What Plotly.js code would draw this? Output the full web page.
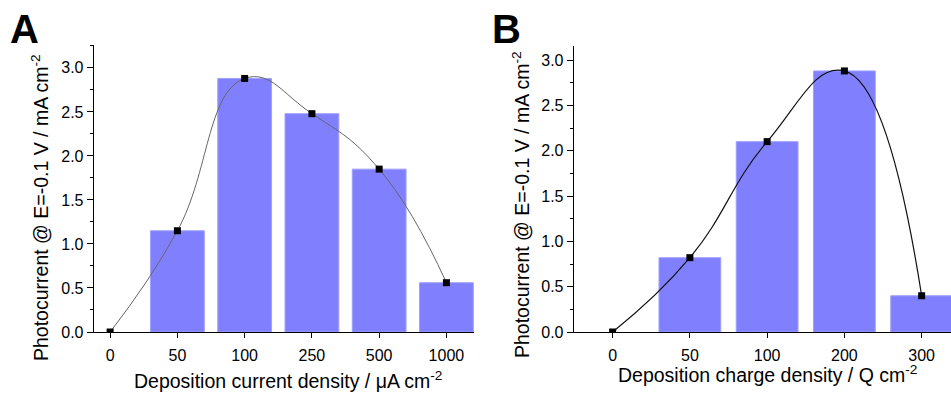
<!DOCTYPE html>
<html>
<head>
<meta charset="utf-8">
<script src="https://cdn.plot.ly/plotly-3.0.1.min.js"></script>
<style>html,body{margin:0;padding:0;background:#fff}#chart{width:951px;height:394px}</style>
</head>
<body>
<div id="chart"></div>
<script>
// Panel A data
const catsA = ["0", "50", "100", "250", "500", "1000"];
const barsA = [null, 1.15, 2.88, 2.48, 1.85, 0.56];
const pointsA = [0, 1.15, 2.88, 2.48, 1.85, 0.56];
// Panel B data
const catsB = ["0", "50", "100", "200", "300"];
const barsB = [null, 0.82, 2.10, 2.88, 0.40];
const pointsB = [0, 0.82, 2.10, 2.88, 0.40];
// Titles
const yTitle = "Photocurrent @ E=-0.1 V / mA cm<sup>-2</sup>";
const xTitleA = "Deposition current density / \u03bcA cm<sup>-2</sup>";
const xTitleB = "Deposition charge density / Q cm<sup>-2</sup>";

const FONT = "Arial, 'Liberation Sans', sans-serif";
const barColor = "rgb(128,128,255)";
const barLine = "rgb(160,160,255)";

const traces = [
  {type: "bar", x: catsA, y: barsA, xaxis: "x", yaxis: "y", width: 0.8,
   marker: {color: barColor, line: {color: barLine, width: 1}}, hoverinfo: "skip"},
  {type: "scatter", mode: "lines", x: catsA, y: pointsA, xaxis: "x", yaxis: "y",
   line: {shape: "spline", smoothing: 1.3, color: "#666", width: 1}},
  {type: "scatter", mode: "markers", x: catsA, y: pointsA, xaxis: "x", yaxis: "y",
   marker: {symbol: "square", size: 7, color: "#000"}},
  {type: "bar", x: catsB, y: barsB, xaxis: "x2", yaxis: "y2", width: 0.8,
   marker: {color: barColor, line: {color: barLine, width: 1}}, hoverinfo: "skip"},
  {type: "scatter", mode: "lines", x: catsB, y: pointsB, xaxis: "x2", yaxis: "y2",
   line: {shape: "spline", smoothing: 1.3, color: "#111", width: 1.2}},
  {type: "scatter", mode: "markers", x: catsB, y: pointsB, xaxis: "x2", yaxis: "y2",
   marker: {symbol: "square", size: 7, color: "#000"}}
];

const H = 394, W = 951;
const yBot = (H - 332) / H;
function xAxis(domain, range, anchor) {
  return {
    type: "category", domain: domain, range: range, anchor: anchor,
    showline: true, linecolor: "#000", linewidth: 1.3, mirror: false,
    ticks: "outside", ticklen: 5, tickwidth: 1, tickcolor: "#000",
    ticklabelstandoff: 3,
    showgrid: false, zeroline: false, fixedrange: true,
    tickfont: {family: FONT, size: 16, color: "#000"}
  };
}
function yAxis(domain, range, anchor) {
  return {
    domain: domain, range: range, anchor: anchor,
    showline: true, linecolor: "#000", linewidth: 1.3,
    ticks: "outside", ticklen: 6, tickwidth: 1, tickcolor: "#000",
    dtick: 0.5, tick0: 0, tickformat: ".1f",
    minor: {ticks: "outside", ticklen: 3, dtick: 0.25, tickcolor: "#000", tickwidth: 1},
    showgrid: false, zeroline: false, fixedrange: true,
    tickfont: {family: FONT, size: 16, color: "#000"}
  };
}
function px(x) { return x / W; }
function py(y) { return 1 - y / H; }
const titleFont = {family: FONT, size: 19.5, color: "#000"};

const layout = {
  width: W, height: H,
  margin: {l: 0, r: 0, t: 0, b: 0},
  paper_bgcolor: "#fff", plot_bgcolor: "rgba(0,0,0,0)",
  showlegend: false, bargap: 0.2,
  xaxis: xAxis([px(94), px(474)], [-0.24, 5.41], "y"),
  yaxis: yAxis([yBot, py(45)], [0, 3.26], "x"),
  xaxis2: xAxis([px(574), 1], [-0.5, 4.38], "y2"),
  yaxis2: yAxis([yBot, py(46)], [0, 3.155], "x2"),
  annotations: [
    {text: "<b>A</b>", xref: "paper", yref: "paper", x: px(8), y: py(5), xanchor: "left", yanchor: "top",
     showarrow: false, font: {family: FONT, size: 40, color: "#000"}},
    {text: "<b>B</b>", xref: "paper", yref: "paper", x: px(490), y: py(5), xanchor: "left", yanchor: "top",
     showarrow: false, font: {family: FONT, size: 40, color: "#000"}},
    {text: xTitleA, xref: "paper", yref: "paper", x: px(288), y: py(380), xanchor: "center", yanchor: "middle",
     showarrow: false, font: titleFont},
    {text: xTitleB, xref: "paper", yref: "paper", x: px(767), y: py(374), xanchor: "center", yanchor: "middle",
     showarrow: false, font: titleFont},
    {text: yTitle, xref: "paper", yref: "paper", x: px(40), y: py(208), xanchor: "center", yanchor: "middle",
     textangle: -90, showarrow: false, font: titleFont},
    {text: yTitle, xref: "paper", yref: "paper", x: px(521), y: py(205), xanchor: "center", yanchor: "middle",
     textangle: -90, showarrow: false, font: titleFont}
  ]
};

Plotly.newPlot("chart", traces, layout, {displayModeBar: false, staticPlot: true});
</script>
</body>
</html>
